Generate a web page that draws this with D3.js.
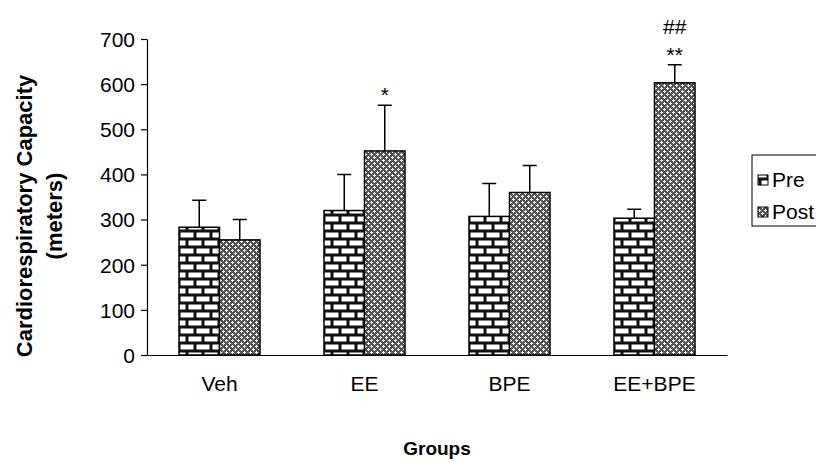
<!DOCTYPE html>
<html>
<head>
<meta charset="utf-8">
<script src="https://cdn.jsdelivr.net/npm/d3@7"></script>
<style>
  body { margin: 0; background: #fff; }
  text { font-family: "Liberation Sans", Arial, sans-serif; fill: #000; }
</style>
</head>
<body>
<div id="chart"></div>
<script>
// chart data
var groups = ["Veh", "EE", "BPE", "EE+BPE"];
var series = ["Pre", "Post"];
var preMean = [283, 320, 307, 303];
var preSD = [60, 80, 73, 20];
var postMean = [255, 452, 360, 603];
var postSD = [45, 101, 60, 40];
var postMarks = ["", "*", "", "**"];
var postMarks2 = ["", "", "", "##"];
var yTicks = [0, 100, 200, 300, 400, 500, 600, 700];

var width = 816, height = 462;
var margin = { top: 39, left: 147, right: 89, bottom: 107 };
var innerW = 727 - margin.left;
var innerH = 355 - margin.top;
var fs = "21px";

var svg = d3.select("#chart").append("svg")
    .attr("width", width)
    .attr("height", height);

/* ****** Patterns ****** */
var defs = svg.append("defs");

// brick pattern for Pre
var brick = defs.append("pattern")
    .attr("id", "brick")
    .attr("patternUnits", "userSpaceOnUse")
    .attr("width", 16).attr("height", 16);
brick.append("rect").attr("width", 16).attr("height", 16).attr("fill", "#111");
brick.append("rect").attr("x", 1.5).attr("y", 1.5).attr("width", 13).attr("height", 5).attr("fill", "#fff");
brick.append("rect").attr("x", -6.5).attr("y", 9.5).attr("width", 13).attr("height", 5).attr("fill", "#fff");
brick.append("rect").attr("x", 9.5).attr("y", 9.5).attr("width", 13).attr("height", 5).attr("fill", "#fff");

// checker / dot pattern for Post
var dots = defs.append("pattern")
    .attr("id", "dots")
    .attr("patternUnits", "userSpaceOnUse")
    .attr("width", 6).attr("height", 6);
dots.append("rect").attr("width", 6).attr("height", 6).attr("fill", "#555");
[[1.5, 1.5], [4.5, 4.5]].forEach(function (p) {
    dots.append("rect").attr("x", p[0] - 1.5).attr("y", p[1] - 0.5).attr("width", 3).attr("height", 1).attr("fill", "#fff");
    dots.append("rect").attr("x", p[0] - 0.5).attr("y", p[1] - 1.5).attr("width", 1).attr("height", 3).attr("fill", "#fff");
});

var fills = ["url(#brick)", "url(#dots)"];

/* ****** Scales ****** */
var g = svg.append("g")
    .attr("transform", "translate(" + margin.left + "," + margin.top + ")");

var x = d3.scaleBand().domain(groups).range([0, innerW]).paddingInner(0).paddingOuter(0);
var x1 = d3.scaleBand().domain(series).range([32, x.bandwidth() - 32]).padding(0);
var y = d3.scaleLinear().domain([0, 700]).range([innerH, 0]);

/* ****** Bars ****** */
var rows = groups.map(function (grp, i) {
    return [
        { group: grp, s: "Pre", v: preMean[i], sd: preSD[i], mark: "", mark2: "" },
        { group: grp, s: "Post", v: postMean[i], sd: postSD[i], mark: postMarks[i], mark2: postMarks2[i] }
    ];
});

var gg = g.selectAll(".grp").data(rows).enter().append("g")
    .attr("class", "grp")
    .attr("transform", function (d) { return "translate(" + x(d[0].group) + ",0)"; });

// error bars (drawn first, bar covers the lower part)
gg.selectAll(".err").data(function (d) { return d; }).enter().append("path")
    .attr("class", "err")
    .attr("fill", "none")
    .attr("stroke", "#000")
    .attr("stroke-width", 1.5)
    .attr("d", function (d) {
        var cx = x1(d.s) + x1.bandwidth() / 2;
        var yt = y(d.v + d.sd);
        return "M" + cx + "," + y(d.v) + "V" + yt + "M" + (cx - 7) + "," + yt + "H" + (cx + 7);
    });

gg.selectAll(".bar").data(function (d) { return d; }).enter().append("rect")
    .attr("class", "bar")
    .attr("x", function (d) { return x1(d.s); })
    .attr("width", x1.bandwidth())
    .attr("y", function (d) { return y(d.v); })
    .attr("height", function (d) { return innerH - y(d.v); })
    .attr("fill", function (d, i) { return fills[i]; })
    .attr("stroke", "#000")
    .attr("stroke-width", 1.5);

gg.selectAll(".mark").data(function (d) { return d; }).enter().append("text")
    .attr("class", "mark")
    .attr("x", function (d) { return x1(d.s) + x1.bandwidth() / 2; })
    .attr("y", function (d) { return y(d.v + d.sd) - 3; })
    .attr("text-anchor", "middle")
    .style("font-size", fs)
    .text(function (d) { return d.mark; });

gg.selectAll(".mark2").data(function (d) { return d; }).enter().append("text")
    .attr("class", "mark2")
    .attr("x", function (d) { return x1(d.s) + x1.bandwidth() / 2; })
    .attr("y", function (d) { return y(d.v + d.sd) - 31; })
    .attr("text-anchor", "middle")
    .style("font-size", fs)
    .text(function (d) { return d.mark2; });

/* ****** Axes ****** */
var yAxis = g.append("g")
    .call(d3.axisLeft(y).tickValues(yTicks).tickSize(6).tickSizeOuter(0).tickPadding(6));
yAxis.selectAll("text").style("font-size", fs).attr("dy", "0.35em");
yAxis.selectAll("line, path").attr("stroke", "#000").attr("stroke-width", 1.2);

var xAxis = g.append("g")
    .attr("transform", "translate(0," + innerH + ")")
    .call(d3.axisBottom(x).tickSize(0).tickPadding(21));
xAxis.selectAll("text").style("font-size", fs);
xAxis.selectAll("path").attr("stroke", "#000").attr("stroke-width", 1.2);

/* ****** Axis titles ****** */
svg.append("text")
    .attr("transform", "translate(32,216) rotate(-90)")
    .attr("text-anchor", "middle")
    .style("font-size", "22px")
    .style("font-weight", "bold")
    .text("Cardiorespiratory Capacity");
svg.append("text")
    .attr("transform", "translate(62,216) rotate(-90)")
    .attr("text-anchor", "middle")
    .style("font-size", "22px")
    .style("font-weight", "bold")
    .text("(meters)");
svg.append("text")
    .attr("x", 437)
    .attr("y", 455)
    .attr("text-anchor", "middle")
    .style("font-size", "19px")
    .style("font-weight", "bold")
    .text("Groups");

/* ****** Legend ****** */
var legend = svg.append("g").attr("transform", "translate(752,155)");
legend.append("rect")
    .attr("width", 90).attr("height", 71)
    .attr("fill", "#fff")
    .attr("stroke", "#000")
    .attr("stroke-width", 1);
series.forEach(function (s, i) {
    var ly = 25 + i * 32;
    legend.append("rect")
        .attr("x", 6).attr("y", ly - 5)
        .attr("width", 10).attr("height", 10)
        .attr("fill", fills[i])
        .attr("stroke", "#000")
        .attr("stroke-width", 1);
    legend.append("text")
        .attr("x", 20).attr("y", ly)
        .attr("dy", "0.35em")
        .style("font-size", fs)
        .text(s);
});
</script>
</body>
</html>
